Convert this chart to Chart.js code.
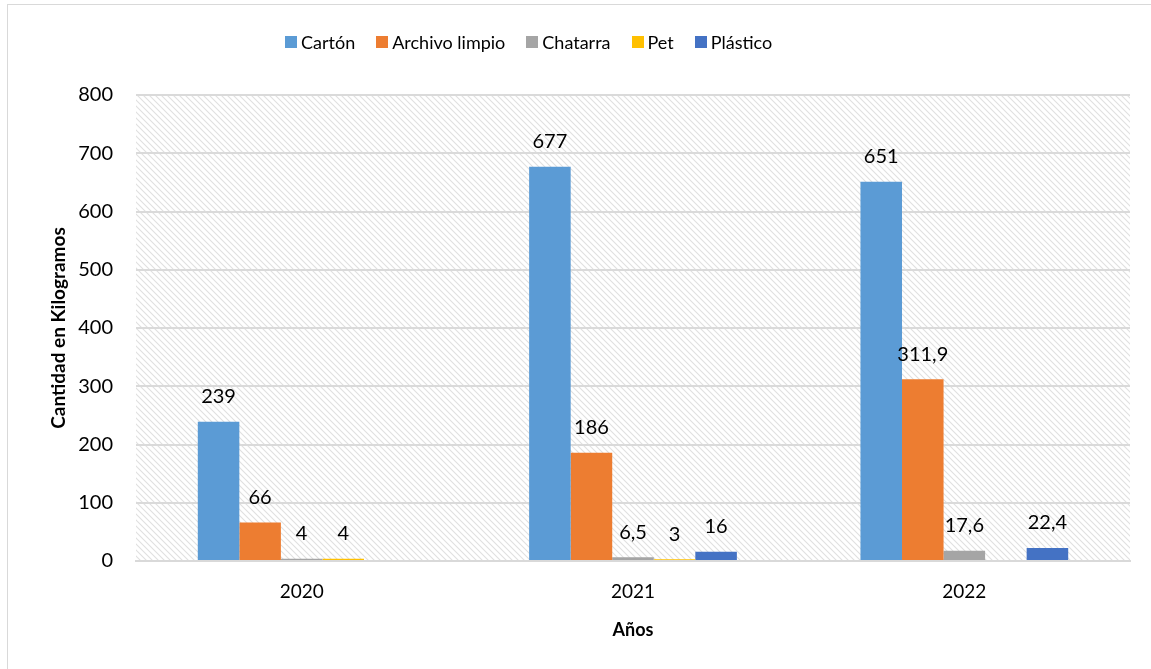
<!DOCTYPE html>
<html>
<head>
<meta charset="utf-8">
<script src="https://cdn.jsdelivr.net/npm/chart.js@4.4.1/dist/chart.umd.min.js"></script>
<style>
  html, body { margin: 0; padding: 0; background: #fff; }
  #wrap { position: relative; width: 1151px; height: 669px; overflow: hidden; }
  #frame { position: absolute; left: 7px; top: 4px; width: 1300px; height: 800px; border-left: 1px solid #d9d9d9; border-top: 1px solid #d9d9d9; box-sizing: border-box; }
  canvas { position: absolute; left: 0; top: 0; }
  #legend { position: absolute; left: 285px; top: 31px; display: flex; align-items: center; font-family: Lato, sans-serif; font-size: 18px; color: #000; white-space: nowrap; }
  #legend .item { display: flex; align-items: center; margin-right: 21px; }
  #legend .box { width: 12px; height: 12px; margin-right: 4px; }
</style>
</head>
<body>
<div id="wrap">
  <div id="frame"></div>
  <canvas id="c" width="1151" height="669"></canvas>
  <div id="legend"></div>
</div>
<script>
const categories = ['2020', '2021', '2022'];
const seriesNames = ['Cartón', 'Archivo limpio', 'Chatarra', 'Pet', 'Plástico'];
const carton = [239, 677, 651];
const archivoLimpio = [66, 186, 311.9];
const chatarra = [4, 6.5, 17.6];
const pet = [4, 3, null];
const plastico = [null, 16, 22.4];
const yTickValues = [0, 100, 200, 300, 400, 500, 600, 700, 800];
const colors = ['#5B9BD5', '#ED7D31', '#A5A5A5', '#FFC000', '#4472C4'];

const seriesValues = [carton, archivoLimpio, chatarra, pet, plastico];

// hatched background pattern
function makePattern() {
  const p = document.createElement('canvas');
  p.width = 6; p.height = 6;
  const c = p.getContext('2d');
  c.fillStyle = '#ffffff';
  c.fillRect(0, 0, 6, 6);
  c.strokeStyle = '#e0e0e0';
  c.lineWidth = 1.1;
  c.beginPath();
  c.moveTo(-1, -1); c.lineTo(7, 7);
  c.moveTo(-4, 2); c.lineTo(4, 10);
  c.moveTo(2, -4); c.lineTo(10, 4);
  c.stroke();
  return p;
}

const bgPlugin = {
  id: 'bgPattern',
  beforeDraw(chart) {
    const { ctx, chartArea: a } = chart;
    ctx.save();
    ctx.fillStyle = ctx.createPattern(makePattern(), 'repeat');
    ctx.fillRect(a.left, a.top, a.right - a.left, a.bottom - a.top);
    ctx.restore();
  }
};

const labelPlugin = {
  id: 'valueLabels',
  afterDatasetsDraw(chart) {
    const ctx = chart.ctx;
    ctx.save();
    ctx.font = '20px Lato, sans-serif';
    ctx.fillStyle = '#000';
    ctx.textAlign = 'center';
    ctx.textBaseline = 'middle';
    chart.data.datasets.forEach((ds, i) => {
      const meta = chart.getDatasetMeta(i);
      meta.data.forEach((el, j) => {
        const v = ds.data[j];
        if (v === null || v === undefined) return;
        ctx.fillText(String(v).replace('.', ','), el.x, el.y - 25);
      });
    });
    ctx.restore();
  }
};

const legendEl = document.getElementById('legend');
seriesNames.forEach((n, i) => {
  const it = document.createElement('div');
  it.className = 'item';
  it.innerHTML = '<div class="box" style="background:' + colors[i] + '"></div><span>' + n + '</span>';
  legendEl.appendChild(it);
});

new Chart(document.getElementById('c'), {
  type: 'bar',
  data: {
    labels: categories,
    datasets: seriesNames.map((n, i) => ({
      label: n,
      data: seriesValues[i],
      backgroundColor: colors[i],
      borderWidth: 0,
      categoryPercentage: 0.627,
      barPercentage: 1
    }))
  },
  options: {
    responsive: false,
    animation: false,
    layout: { padding: { left: 8, right: 21, top: 95, bottom: 18 } },
    plugins: { legend: { display: false }, tooltip: { enabled: false } },
    scales: {
      x: {
        grid: { display: false, drawTicks: false },
        border: { display: true, color: '#d9d9d9', width: 2 },
        ticks: { color: '#000', font: { family: 'Lato', size: 19 }, padding: 19 },
        title: { display: true, text: 'Años', color: '#000', font: { family: 'Lato', size: 18, weight: 'bold' }, padding: { top: 4, bottom: 10 } },
        afterFit(s) { s.height = 90; }
      },
      y: {
        min: 0, max: 800,
        afterBuildTicks(s) { s.ticks = yTickValues.map(v => ({ value: v })); },
        grid: { color: '#dadada', lineWidth: 2, drawTicks: false },
        border: { display: false },
        ticks: { color: '#000', font: { family: 'Lato', size: 20 }, padding: 23 },
        title: { display: true, text: 'Cantidad en Kilogramos', color: '#000', font: { family: 'Lato', size: 19, weight: 'bold' }, padding: { top: 39, bottom: 0 } },
        afterFit(s) { s.width = 128; }
      }
    }
  },
  plugins: [bgPlugin, labelPlugin]
});
</script>
</body>
</html>
